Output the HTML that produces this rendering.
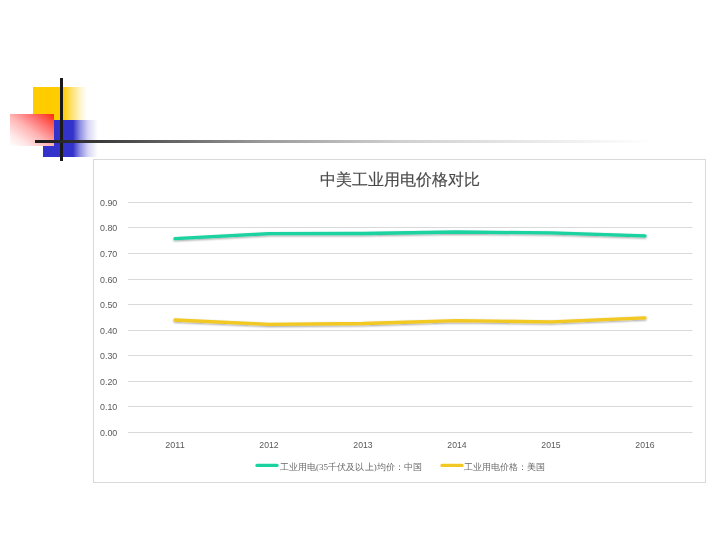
<!DOCTYPE html>
<html><head><meta charset="utf-8">
<style>
html,body{margin:0;padding:0;background:#fff;width:720px;height:540px;overflow:hidden}
body{position:relative;font-family:"Liberation Sans",sans-serif}
.a{position:absolute}
</style></head><body>
<div class="a" style="left:33px;top:87px;width:54px;height:33px;background:linear-gradient(90deg,#ffcc00 0,#ffcc00 30px,rgba(255,204,0,0.6) 38px,rgba(255,204,0,0.25) 46px,rgba(255,204,0,0) 54px)"></div>
<div class="a" style="left:43px;top:120px;width:57px;height:37px;background:linear-gradient(90deg,#3333cc 0,#3333cc 30px,rgba(51,51,204,0.55) 37px,rgba(51,51,204,0.2) 45px,rgba(51,51,204,0) 55px)"></div>
<div class="a" style="left:10px;top:114px;width:44px;height:32px;background:linear-gradient(to bottom left,#ff2a10 0%,#ff7272 28%,#ffb4b4 52%,#ffe4e4 78%,#ffffff 100%)"></div>
<div class="a" style="left:60px;top:78px;width:3px;height:83px;background:#1a1a1a"></div>
<div class="a" style="left:35px;top:140px;width:625px;height:3px;background:linear-gradient(90deg,#1a1a1a 0,#404040 12%,#999 36%,#d0d0d0 58.4%,#fff 99%)"></div>
<div class="a" style="left:93px;top:159px;width:611px;height:322px;border:1px solid #d9d9d9"></div>
<svg class="a" style="left:0;top:0;will-change:transform" width="720" height="540" viewBox="0 0 720 540">
<defs><filter id="sh" x="-5%" y="-50%" width="110%" height="200%"><feGaussianBlur in="SourceAlpha" stdDeviation="0.9"/><feOffset dx="0.3" dy="1.4"/><feComponentTransfer><feFuncA type="linear" slope="0.38"/></feComponentTransfer><feMerge><feMergeNode/><feMergeNode in="SourceGraphic"/></feMerge></filter></defs>
<g stroke="#d9d9d9" stroke-width="1"><line x1="128" y1="432.5" x2="692.5" y2="432.5"/><line x1="128" y1="406.5" x2="692.5" y2="406.5"/><line x1="128" y1="381.5" x2="692.5" y2="381.5"/><line x1="128" y1="355.5" x2="692.5" y2="355.5"/><line x1="128" y1="330.5" x2="692.5" y2="330.5"/><line x1="128" y1="304.5" x2="692.5" y2="304.5"/><line x1="128" y1="279.5" x2="692.5" y2="279.5"/><line x1="128" y1="253.5" x2="692.5" y2="253.5"/><line x1="128" y1="227.5" x2="692.5" y2="227.5"/><line x1="128" y1="202.5" x2="692.5" y2="202.5"/></g>
<g fill="#5a5a5a" font-size="9.8" font-family="Liberation Sans"><text x="100" y="435.7" textLength="17.3" lengthAdjust="spacingAndGlyphs">0.00</text><text x="100" y="409.7" textLength="17.3" lengthAdjust="spacingAndGlyphs">0.10</text><text x="100" y="384.7" textLength="17.3" lengthAdjust="spacingAndGlyphs">0.20</text><text x="100" y="358.7" textLength="17.3" lengthAdjust="spacingAndGlyphs">0.30</text><text x="100" y="333.7" textLength="17.3" lengthAdjust="spacingAndGlyphs">0.40</text><text x="100" y="307.7" textLength="17.3" lengthAdjust="spacingAndGlyphs">0.50</text><text x="100" y="282.7" textLength="17.3" lengthAdjust="spacingAndGlyphs">0.60</text><text x="100" y="256.7" textLength="17.3" lengthAdjust="spacingAndGlyphs">0.70</text><text x="100" y="230.7" textLength="17.3" lengthAdjust="spacingAndGlyphs">0.80</text><text x="100" y="205.7" textLength="17.3" lengthAdjust="spacingAndGlyphs">0.90</text></g>
<g fill="#595959" font-size="9.8" font-family="Liberation Sans"><text x="165.35" y="448.4" textLength="19.3" lengthAdjust="spacingAndGlyphs">2011</text><text x="259.35" y="448.4" textLength="19.3" lengthAdjust="spacingAndGlyphs">2012</text><text x="353.35" y="448.4" textLength="19.3" lengthAdjust="spacingAndGlyphs">2013</text><text x="447.35" y="448.4" textLength="19.3" lengthAdjust="spacingAndGlyphs">2014</text><text x="541.35" y="448.4" textLength="19.3" lengthAdjust="spacingAndGlyphs">2015</text><text x="635.35" y="448.4" textLength="19.3" lengthAdjust="spacingAndGlyphs">2016</text></g>
<g fill="none" stroke-width="3.3" stroke-linecap="round" stroke-linejoin="round" filter="url(#sh)">
<path d="M175,238.6 L269,233.6 L363,233.5 L457,232.0 L551,232.9 L645,235.9" stroke="#1ad2a0"/>
<path d="M175,320.0 L269,324.3 L363,323.5 L457,320.6 L551,321.9 L645,317.9" stroke="#f2c824"/>
</g>
<text x="399.5" y="184.6" text-anchor="middle" font-size="16" fill="#4a4a4a" stroke="#4a4a4a" stroke-width="0.15" font-family="Liberation Sans">中美工业用电价格对比</text>
<line x1="257" y1="465.4" x2="277" y2="465.4" stroke="#1ad2a0" stroke-width="3.3" stroke-linecap="round"/>
<text x="279.5" y="470" font-size="9" letter-spacing="0.1" fill="#6a6a6a" font-family="&quot;Liberation Serif&quot;, serif">工业用电(35千伏及以上)均价：中国</text>
<line x1="442" y1="465.4" x2="462" y2="465.4" stroke="#f2c824" stroke-width="3.3" stroke-linecap="round"/>
<text x="464" y="470" font-size="9" fill="#6a6a6a" font-family="&quot;Liberation Serif&quot;, serif">工业用电价格：美国</text>
</svg>
</body></html>
